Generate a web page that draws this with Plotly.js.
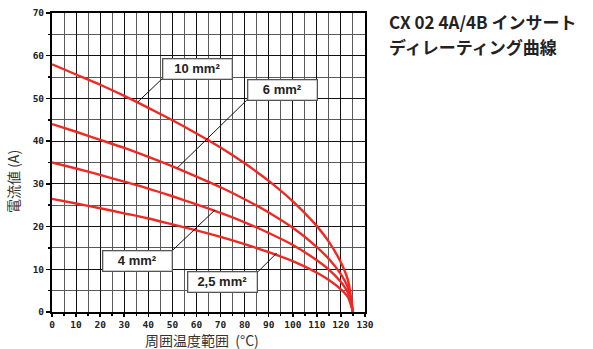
<!DOCTYPE html>
<html><head><meta charset="utf-8">
<script src="https://cdn.plot.ly/plotly-3.0.1.min.js"></script>
<style>html,body{margin:0;padding:0;background:#fff;}#chart{width:593px;height:349px;}</style>
</head><body><div id="chart"></div>
<script>
const temps = [0,10,20,30,40,50,60,70,80,90,100,110,115,120,123,125];
const i10  = [58,55.6,53.2,50.6,47.8,44.9,41.8,38.5,34.8,30.7,25.9,20.1,16.4,11.6,7.3,0];
const i6   = [44,42.2,40.3,38.4,36.3,34.1,31.7,29.2,26.4,23.3,19.7,15.2,12.4,8.8,5.6,0];
const i4   = [35,33.6,32.1,30.5,28.9,27.1,25.2,23.2,21.0,18.5,15.7,12.1,9.9,7.0,4.4,0];
const i25  = [26.5,25.4,24.3,23.1,21.9,20.5,19.1,17.6,15.9,14.0,11.9,9.2,7.5,5.3,3.4,0];
const seriesNames = ['10 mm²','6 mm²','4 mm²','2,5 mm²'];
const xTicks = [0,10,20,30,40,50,60,70,80,90,100,110,120,130];
const yTicks = [0,10,20,30,40,50,60,70];

const red = '#ee2a24';
const traces = [i10,i6,i4,i25].map((ys,k)=>({
  x: temps, y: ys, type:'scatter', mode:'lines', name: seriesNames[k],
  line:{color:red, width:2.4, shape:'spline', smoothing:0.6}, hoverinfo:'skip'
}));

const labelFont = {family:'Liberation Sans, Arial, sans-serif', size:13, color:'#222', weight:'bold'};
function lab(text, cx, cy){
  return {x:cx, y:cy, xref:'x', yref:'y', text:'<b>'+text+'</b>', showarrow:false,
    font:labelFont, bgcolor:'#fff', bordercolor:'#555', borderwidth:1.3,
    width:66, height:17, borderpad:1, xanchor:'center', yanchor:'middle'};
}
function leader(x0,y0,x1,y1){
  return {type:'line', xref:'x', yref:'y', x0:x0, y0:y0, x1:x1, y1:y1,
    line:{color:'#111', width:1}, layer:'above'};
}
const tickFont = {family:'DejaVu Sans Mono, monospace', size:9.5, color:'#222', weight:'bold'};
const titleFont = {family:'Noto Sans CJK JP, sans-serif', size:14, color:'#333'};
const headFont = {family:'Noto Sans CJK JP, sans-serif', size:17, color:'#222', weight:'bold'};

const layout = {
  width:593, height:349,
  margin:{l:52, r:228, t:13, b:37},
  paper_bgcolor:'#fff', plot_bgcolor:'#fff',
  showlegend:false,
  xaxis:{range:[0,130], tickvals:xTicks, ticktext:xTicks.map(v=>'<b>'+v+'</b>'),
    showgrid:true, gridcolor:'#111', gridwidth:1,
    minor:{dtick:5, showgrid:true, gridcolor:'#5a5a5a', gridwidth:1, ticks:'outside', ticklen:2, tickcolor:'#000'},
    ticks:'outside', ticklen:3, tickcolor:'#000', tickwidth:1.5,
    showline:true, linecolor:'#000', linewidth:2, mirror:true, zeroline:false,
    tickfont:tickFont
  },
  yaxis:{range:[0,70], tickvals:yTicks, ticktext:yTicks.map(v=>'<b>'+v+'</b>'),
    showgrid:true, gridcolor:'#111', gridwidth:1,
    minor:{dtick:5, showgrid:true, gridcolor:'#5a5a5a', gridwidth:1, ticks:'outside', ticklen:2, tickcolor:'#000'},
    ticks:'outside', ticklen:4, tickcolor:'#000', tickwidth:1.5,
    showline:true, linecolor:'#000', linewidth:2, mirror:true, zeroline:false,
    tickfont:tickFont
  },
  shapes:[
    leader(46.1,54.8,35.7,49.2),
    leader(80.9,49.6,52.0,33.7),
    leader(50.2,14.5,67.7,23.9),
    leader(85.5,9.4,93.3,13.8)
  ],
  annotations:[
    lab('10 mm²', 60.6, 57.0),
    lab('6 mm²', 95.6, 52.0),
    lab('4 mm²', 35.5, 12.0),
    lab('2,5 mm²', 70.8, 7.0),
    {xref:'paper', yref:'paper', x:1.0, y:1.0, xshift:22, yshift:-8, xanchor:'left', yanchor:'middle', align:'left',
     showarrow:false, text:'<b>CX 02 4A/4B インサート</b>', font:headFont},
    {xref:'paper', yref:'paper', x:1.0, y:1.0, xshift:22, yshift:-33, xanchor:'left', yanchor:'middle', align:'left',
     showarrow:false, text:'<b>ディレーティング曲線</b>', font:headFont},
    {xref:'paper', yref:'paper', x:0, y:0, xshift:-39, yshift:130, xanchor:'center', yanchor:'middle',
     showarrow:false, textangle:-90, text:'電流値 (A)', font:titleFont},
    {xref:'paper', yref:'paper', x:0, y:0, xshift:149.5, yshift:-27.5, xanchor:'center', yanchor:'middle',
     showarrow:false, text:'周囲温度範囲  (°C)', font:titleFont}
  ]
};
Plotly.newPlot('chart', traces, layout, {displayModeBar:false, staticPlot:true});
</script></body></html>
